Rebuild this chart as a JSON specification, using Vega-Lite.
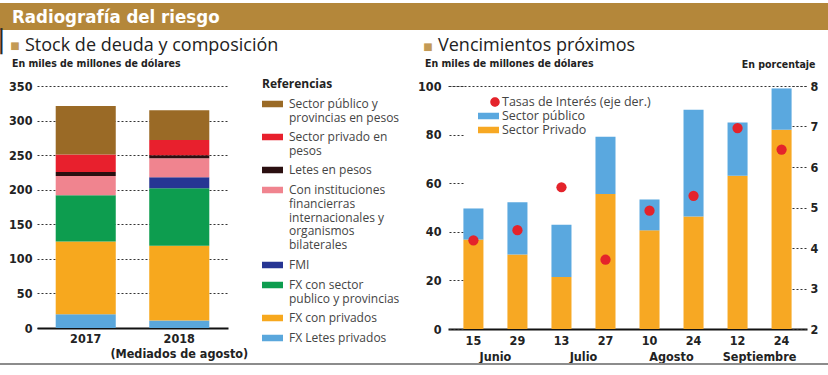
{
  "$schema": "https://vega.github.io/schema/vega-lite/v6.json",
  "padding": {"left": 0, "top": 3, "right": 0, "bottom": 0},
  "background": "white",
  "config": {
    "view": {"stroke": null},
    "axis": {"labelFont": "DejaVu Sans Condensed", "labelFontWeight": "bold", "labelFontSize": 12.5, "labelColor": "#222"},
    "concat": {"spacing": 0}
  },
  "spacing": 0,
  "vconcat": [
    {
      "width": 791,
      "height": 27,
      "data": {"values": [{"t": "Radiografía del riesgo"}]},
      "layer": [
        {
          "mark": {"type": "rect", "color": "#b4873a"},
          "encoding": {
            "x": {"datum": -37, "type": "quantitative", "scale": {"domain": [0, 791], "nice": false, "zero": false}, "axis": null},
            "x2": {"datum": 791},
            "y": {"datum": 0, "type": "quantitative", "scale": {"domain": [0, 1], "nice": false}, "axis": null},
            "y2": {"datum": 1}
          }
        },
        {
          "mark": {"type": "text", "align": "left", "baseline": "middle", "font": "DejaVu Sans Condensed", "fontWeight": "bold", "fontSize": 18.5, "color": "white"},
          "encoding": {
            "text": {"field": "t"},
            "x": {"datum": -25, "type": "quantitative"},
            "y": {"datum": 0.5, "type": "quantitative"}
          }
        }
      ]
    },
    {
      "bounds": "flush",
      "spacing": 220,
      "resolve": {"scale": {"color": "independent"}, "legend": {"color": "independent"}},
      "hconcat": [
        {
          "width": 191,
          "height": 242,
          "title": {
            "text": "⠀Stock de deuda y composición",
            "subtitle": "En miles de millones de dólares",
            "anchor": "start", "frame": "group", "dx": -25, "offset": -39,
            "font": "Open Sans", "fontSize": 18, "fontWeight": "normal", "color": "#222",
            "subtitleFont": "DejaVu Sans Condensed", "subtitleFontWeight": "bold", "subtitleFontSize": 10.5, "subtitleColor": "#222", "subtitlePadding": 4
          },
          "data": {"values": [
            {"anio": "2017", "cat": "FX Letes privados", "valor": 20, "orden": 1},
            {"anio": "2017", "cat": "FX con privados", "valor": 105, "orden": 2},
            {"anio": "2017", "cat": "FX con sector publico y provincias", "valor": 67, "orden": 3},
            {"anio": "2017", "cat": "Con instituciones financierras internacionales y organismos bilaterales", "valor": 28, "orden": 5},
            {"anio": "2017", "cat": "Letes en pesos", "valor": 5.5, "orden": 6},
            {"anio": "2017", "cat": "Sector privado en pesos", "valor": 25.5, "orden": 7},
            {"anio": "2017", "cat": "Sector público y provincias en pesos", "valor": 70, "orden": 8},
            {"anio": "2018", "cat": "FX Letes privados", "valor": 11, "orden": 1},
            {"anio": "2018", "cat": "FX con privados", "valor": 108, "orden": 2},
            {"anio": "2018", "cat": "FX con sector publico y provincias", "valor": 83, "orden": 3},
            {"anio": "2018", "cat": "FMI", "valor": 16, "orden": 4},
            {"anio": "2018", "cat": "Con instituciones financierras internacionales y organismos bilaterales", "valor": 27.5, "orden": 5},
            {"anio": "2018", "cat": "Letes en pesos", "valor": 4.5, "orden": 6},
            {"anio": "2018", "cat": "Sector privado en pesos", "valor": 22, "orden": 7},
            {"anio": "2018", "cat": "Sector público y provincias en pesos", "valor": 43, "orden": 8}
          ]},
          "mark": {"type": "bar"},
          "encoding": {
            "x": {
              "field": "anio", "type": "nominal", "sort": null,
              "scale": {"paddingInner": 0.358, "paddingOuter": 0.2},
              "axis": {
                "labelAngle": 0, "ticks": false, "domainColor": "#111", "domainWidth": 2,
                "labelPadding": 4, "labelBaseline": "top", "labelLineHeight": 15,
                "labelExpr": "datum.value == '2018' ? ['2018', '(Mediados de agosto)'] : datum.label",
                "title": "▏", "titleFont": "DejaVu Sans", "titleFontSize": 22, "titleFontWeight": "normal", "titleColor": "#2a2a2a",
                "titleAngle": 0, "titleAlign": "left", "titleBaseline": "top", "titleX": -37, "titleY": -297
              }
            },
            "y": {
              "field": "valor", "type": "quantitative", "stack": "zero",
              "scale": {"domain": [0, 350]},
              "axis": {
                "values": [0, 50, 100, 150, 200, 250, 300, 350],
                "grid": true, "gridDash": [2, 2], "gridColor": "#333", "gridWidth": 1,
                "domain": false, "ticks": false, "labelPadding": 5,
                "title": "■", "titleAngle": 0, "titleX": -22.5, "titleY": -40.5,
                "titleAlign": "center", "titleBaseline": "middle",
                "titleFont": "DejaVu Sans", "titleFontSize": 10, "titleFontWeight": "normal", "titleColor": "#c39a55"
              }
            },
            "color": {
              "field": "cat", "type": "nominal",
              "scale": {
                "domain": ["Sector público y provincias en pesos", "Sector privado en pesos", "Letes en pesos", "Con instituciones financierras internacionales y organismos bilaterales", "FMI", "FX con sector publico y provincias", "FX con privados", "FX Letes privados"],
                "range": ["#9a6a26", "#e8202d", "#2a0f10", "#f0848f", "#263593", "#0d9d4f", "#f7a81e", "#5aa7dc"]
              },
              "legend": {
                "title": "Referencias", "orient": "none", "legendX": 225, "legendY": -7, "padding": 0,
                "titleFont": "Open Sans", "titleFontWeight": "bold", "titleFontSize": 12, "titleColor": "#222", "titlePadding": 6,
                "labelFont": "Open Sans", "labelFontSize": 12, "labelColor": "#444", "labelLimit": 250, "labelOffset": 6,
                "symbolType": "M-1,-0.3H1V0.3H-1Z", "symbolSize": 441, "symbolStrokeWidth": 0,
                "clipHeight": 14, "rowPadding": 6,
                "labelExpr": "datum.value == 'Sector público y provincias en pesos' ? ['Sector público y', 'provincias en pesos'] : datum.value == 'Sector privado en pesos' ? ['Sector privado en', 'pesos'] : datum.value == 'FX con sector publico y provincias' ? ['FX con sector', 'publico y provincias'] : indexof(datum.value, 'Con instituciones') == 0 ? ['Con instituciones', 'financierras', 'internacionales y', 'organismos', 'bilaterales'] : datum.label",
                "encode": {"labels": {"update": {"lineHeight": {"value": 13.8}}}}
              }
            },
            "order": {"field": "orden", "type": "quantitative"}
          }
        },
        {
          "width": 359,
          "height": 243,
          "title": {
            "text": "⠀Vencimientos próximos",
            "subtitle": "En miles de millones de dólares",
            "anchor": "start", "frame": "group", "dx": -23, "offset": -28.5,
            "font": "Open Sans", "fontSize": 18, "fontWeight": "normal", "color": "#222",
            "subtitleFont": "DejaVu Sans Condensed", "subtitleFontWeight": "bold", "subtitleFontSize": 10.5, "subtitleColor": "#222", "subtitlePadding": 4
          },
          "data": {"values": [
            {"fecha": "15 Junio", "serie": "Sector Privado", "valor": 36.8, "orden": 1},
            {"fecha": "15 Junio", "serie": "Sector público", "valor": 12.8, "orden": 2},
            {"fecha": "15 Junio", "serie": "Tasas de Interés (eje der.)", "valor": 4.19, "orden": 3},
            {"fecha": "29 Junio", "serie": "Sector Privado", "valor": 30.7, "orden": 1},
            {"fecha": "29 Junio", "serie": "Sector público", "valor": 21.5, "orden": 2},
            {"fecha": "29 Junio", "serie": "Tasas de Interés (eje der.)", "valor": 4.44, "orden": 3},
            {"fecha": "13 Julio", "serie": "Sector Privado", "valor": 21.4, "orden": 1},
            {"fecha": "13 Julio", "serie": "Sector público", "valor": 21.5, "orden": 2},
            {"fecha": "13 Julio", "serie": "Tasas de Interés (eje der.)", "valor": 5.5, "orden": 3},
            {"fecha": "27 Julio", "serie": "Sector Privado", "valor": 55.6, "orden": 1},
            {"fecha": "27 Julio", "serie": "Sector público", "valor": 23.5, "orden": 2},
            {"fecha": "27 Julio", "serie": "Tasas de Interés (eje der.)", "valor": 3.71, "orden": 3},
            {"fecha": "10 Agosto", "serie": "Sector Privado", "valor": 40.6, "orden": 1},
            {"fecha": "10 Agosto", "serie": "Sector público", "valor": 12.7, "orden": 2},
            {"fecha": "10 Agosto", "serie": "Tasas de Interés (eje der.)", "valor": 4.92, "orden": 3},
            {"fecha": "24 Agosto", "serie": "Sector Privado", "valor": 46.3, "orden": 1},
            {"fecha": "24 Agosto", "serie": "Sector público", "valor": 43.9, "orden": 2},
            {"fecha": "24 Agosto", "serie": "Tasas de Interés (eje der.)", "valor": 5.29, "orden": 3},
            {"fecha": "12 Septiembre", "serie": "Sector Privado", "valor": 63.1, "orden": 1},
            {"fecha": "12 Septiembre", "serie": "Sector público", "valor": 21.9, "orden": 2},
            {"fecha": "12 Septiembre", "serie": "Tasas de Interés (eje der.)", "valor": 6.96, "orden": 3},
            {"fecha": "24 Septiembre", "serie": "Sector Privado", "valor": 82.0, "orden": 1},
            {"fecha": "24 Septiembre", "serie": "Sector público", "valor": 17.0, "orden": 2},
            {"fecha": "24 Septiembre", "serie": "Tasas de Interés (eje der.)", "valor": 6.43, "orden": 3}
          ]},
          "layer": [
            {
              "transform": [{"filter": "datum.serie != 'Tasas de Interés (eje der.)'"}],
              "mark": {"type": "bar"},
              "encoding": {
                "x": {
                  "field": "fecha", "type": "ordinal", "sort": null,
                  "scale": {"paddingInner": 0.545, "paddingOuter": 0.35},
                  "axis": {
                    "orient": "bottom",
                    "title": null, "labelAngle": 0, "ticks": false, "domainColor": "#111", "domainWidth": 2,
                    "labelPadding": 5, "labelBaseline": "top",
                    "labelExpr": "split(datum.label, ' ')[0]"
                  }
                },
                "y": {
                  "field": "valor", "type": "quantitative", "stack": "zero",
                  "scale": {"domain": [0, 100]},
                  "axis": {
                    "values": [0, 20, 40, 60, 80, 100], "offset": -15,
                    "grid": true, "gridDash": [2, 2], "gridColor": "#333",
                    "gridOpacity": {"condition": {"test": "datum.value == 100", "value": 1}, "value": 0},
                    "domain": false, "ticks": true, "tickSize": 15, "tickDash": [2, 2], "tickColor": "#333",
                    "labelPadding": 7,
                    "title": "■", "titleAngle": 0, "titleX": -35.5, "titleY": -40,
                    "titleAlign": "center", "titleBaseline": "middle",
                    "titleFont": "DejaVu Sans", "titleFontSize": 10, "titleFontWeight": "normal", "titleColor": "#c39a55"
                  }
                },
                "color": {
                  "field": "serie", "type": "nominal",
                  "scale": {
                    "domain": ["Tasas de Interés (eje der.)", "Sector público", "Sector Privado"],
                    "range": ["#e4232b", "#5aa8df", "#f7a823"]
                  },
                  "legend": {
                    "title": null, "orient": "none", "legendX": 30, "legendY": 9, "padding": 0,
                    "labelFont": "Open Sans", "labelFontSize": 12.5, "labelColor": "#444", "labelOffset": 3, "labelLimit": 250,
                    "symbolType": "M-1,-0.3H1V0.3H-1Z", "symbolSize": 441, "symbolStrokeWidth": 0,
                    "clipHeight": 14, "rowPadding": 0,
                    "encode": {"symbols": {"update": {
                      "shape": {"signal": "datum.value == 'Tasas de Interés (eje der.)' ? 'M0.167,0A0.452,0.452 0 1,0 1.071,0A0.452,0.452 0 1,0 0.167,0Z' : 'M-1,-0.3H1V0.3H-1Z'"},
                      "opacity": {"value": 1}
                    }}}
                  }
                },
                "order": {"field": "orden", "type": "quantitative"}
              }
            },
            {
              "transform": [{"filter": "datum.serie == 'Tasas de Interés (eje der.)'"}],
              "mark": {"type": "circle", "size": 105, "opacity": 1},
              "encoding": {
                "x": {
                  "field": "fecha", "type": "ordinal", "sort": null,
                  "axis": {
                    "orient": "bottom",
                    "title": null, "labelAngle": 0, "ticks": false, "domain": false,
                    "labelPadding": 21, "labelBaseline": "top", "labelOffset": 22, "labelOverlap": false, "labelFlush": false,
                    "labelExpr": "indexof(['15 Junio', '13 Julio', '10 Agosto', '12 Septiembre'], datum.value) >= 0 ? split(datum.value, ' ')[1] : ''"
                  }
                },
                "y": {
                  "field": "valor", "type": "quantitative",
                  "scale": {"domain": [2, 8]},
                  "axis": {
                    "orient": "right", "values": [2, 3, 4, 5, 6, 7, 8], "offset": -15,
                    "grid": false, "domain": false, "ticks": true, "tickSize": 15, "tickDash": [2, 2], "tickColor": "#333",
                    "labelPadding": 3,
                    "title": "En porcentaje", "titleAngle": 0, "titleX": 23, "titleY": -22,
                    "titleAlign": "right", "titleBaseline": "middle",
                    "titleFont": "DejaVu Sans Condensed", "titleFontSize": 10.5, "titleFontWeight": "bold", "titleColor": "#222"
                  }
                },
                "color": {"field": "serie", "type": "nominal"}
              }
            }
          ],
          "resolve": {"scale": {"y": "independent"}, "axis": {"x": "independent"}}
        }
      ]
    },
    {
      "width": 791,
      "height": 2,
      "data": {"values": [{"t": ""}]},
      "mark": {"type": "rect", "color": "#8c8c8c"},
      "encoding": {
        "x": {"datum": -37, "type": "quantitative", "scale": {"domain": [0, 791], "nice": false, "zero": false}, "axis": null},
        "x2": {"datum": 791},
        "y": {"datum": 0, "type": "quantitative", "scale": {"domain": [0, 1], "nice": false}, "axis": null},
        "y2": {"datum": 1}
      }
    }
  ]
}
